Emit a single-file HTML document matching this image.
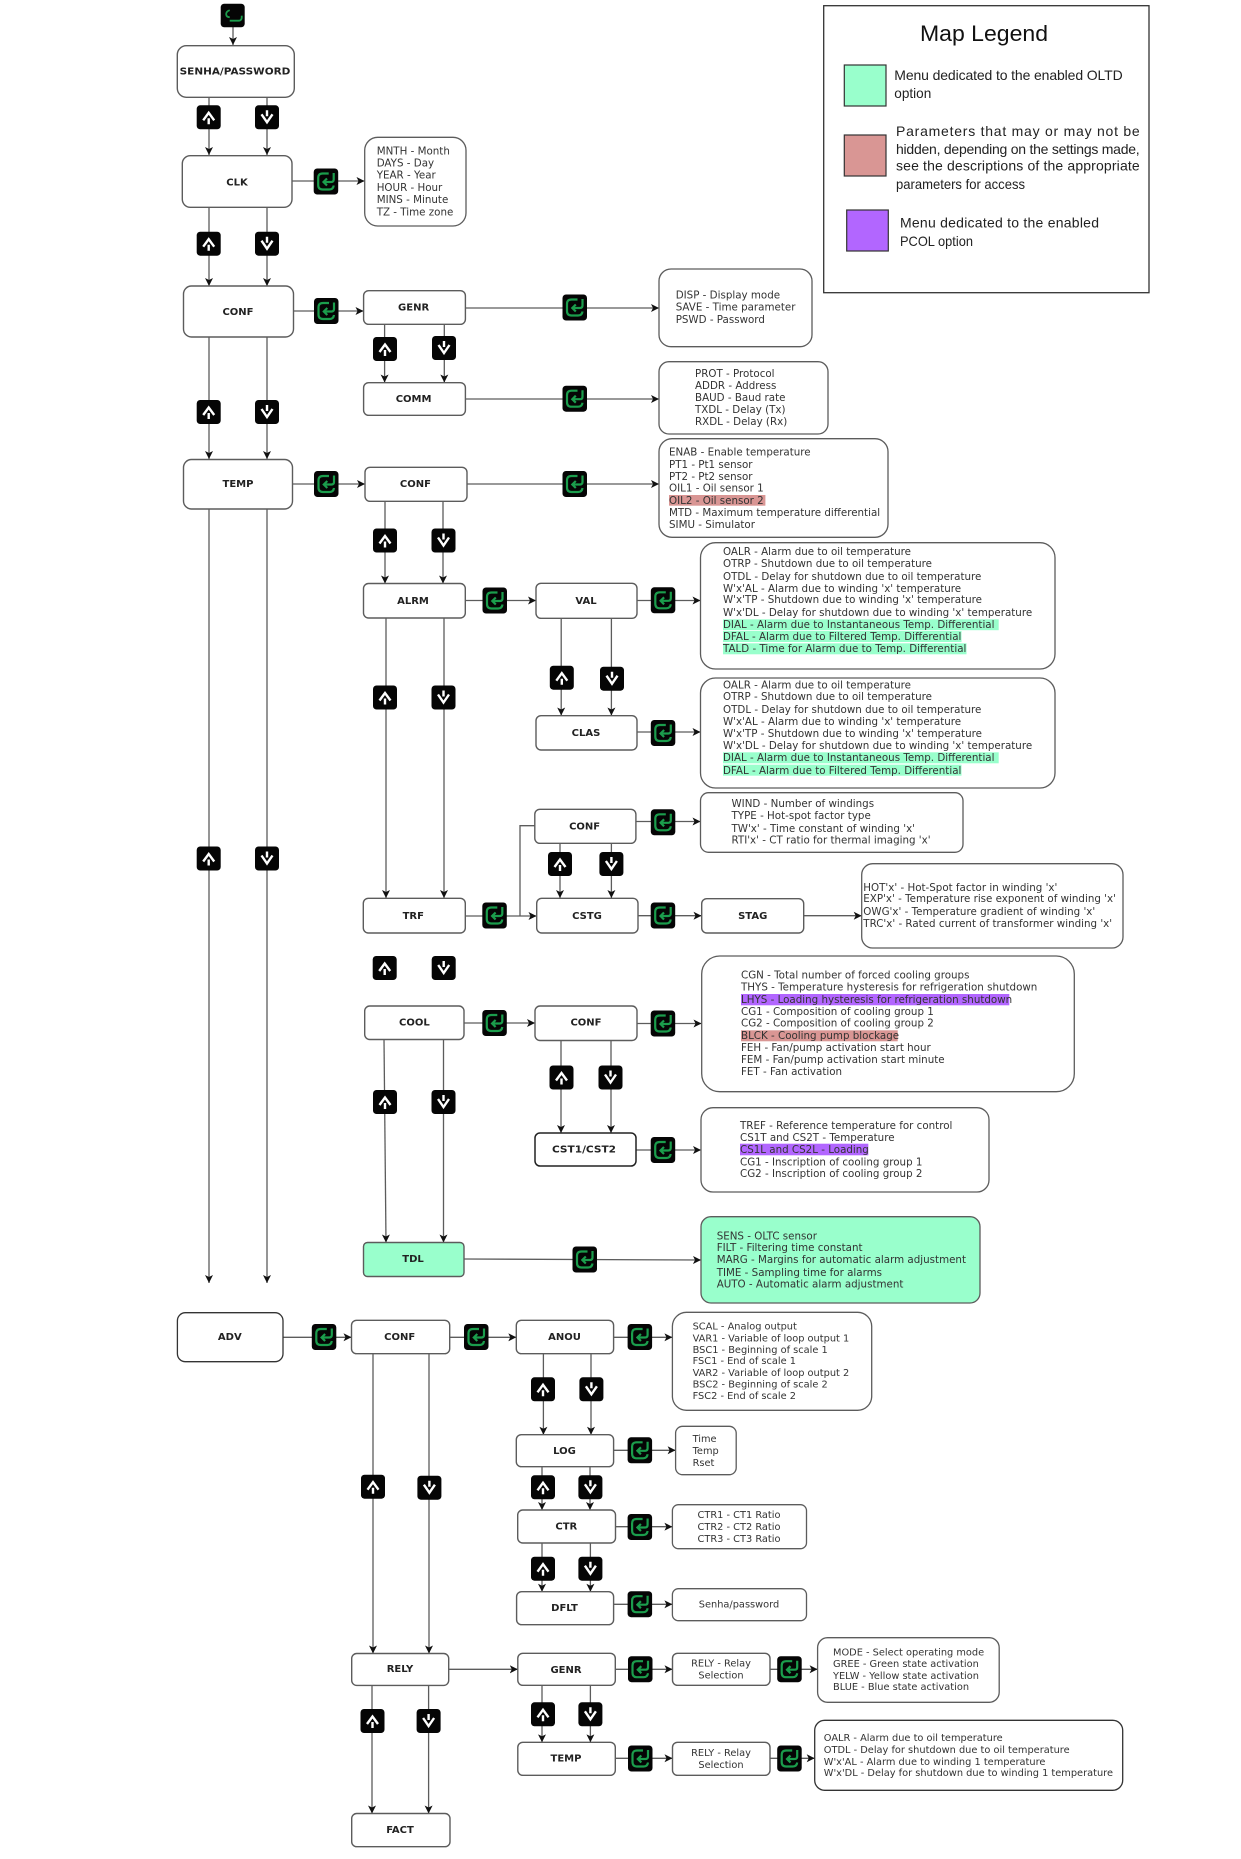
<!DOCTYPE html>
<html><head><meta charset="utf-8"><style>
html,body{margin:0;padding:0;background:#fff}
svg{display:block}
text{font-family:"DejaVu Sans","Liberation Sans",sans-serif;font-size:10.3px;fill:#333}
.b{font-weight:bold;fill:#222;text-anchor:middle;font-size:10px}
.l{stroke:#5c5c5c;stroke-width:1.3;fill:none}
.a{marker-end:url(#ah)}
.n{fill:#fff;stroke:#5c5c5c;stroke-width:1.4}
.i{fill:#fff;stroke:#5c5c5c;stroke-width:1.3}
.s{font-size:9.8px}
.g{font-family:"Liberation Sans",sans-serif;font-size:14px;fill:#222}
</style></head><body>
<svg width="1241" height="1859" viewBox="0 0 1241 1859" xmlns="http://www.w3.org/2000/svg">
<defs>
<marker id="ah" markerWidth="9" markerHeight="9" refX="8" refY="4.5" orient="auto" markerUnits="userSpaceOnUse"><path d="M0 .5L8 4.5L0 8.5L2 4.5Z" fill="#111"/></marker>
<g id="e"><rect width="24.5" height="26" rx="3.5" fill="#050505"/><path d="M15 5H9Q4.500 5 4.500 9.500V16.500Q4.500 21 9 21H15.500Q19.500 21 20 17M20 4.500V11Q20 13.500 17.500 13.500H10M13.300 10L9.800 13.500L13.300 17" fill="none" stroke="#1b9d4c" stroke-width="2.200"/></g>
<g id="u"><rect width="24" height="24" rx="3.5" fill="#050505"/><path d="M6.5 15L12 7.5L17.5 15M12 13V19" fill="none" stroke="#fff" stroke-width="2.4"/></g>
<g id="d"><rect width="24" height="24" rx="3.5" fill="#050505"/><path d="M6.5 9L12 17L17.5 9M12 5V11" fill="none" stroke="#fff" stroke-width="2.4"/></g>
</defs>
<rect width="1241" height="1859" fill="#fff"/>

<!-- connectors -->
<path class="l a" d="M233 27V45"/>
<path class="l a" d="M209 97V155"/><path class="l a" d="M267 97V155"/>
<path class="l a" d="M292 181H364.500"/>
<path class="l a" d="M209 207V286"/><path class="l a" d="M267 207V286"/>
<path class="l a" d="M209 337V459"/><path class="l a" d="M267 337V459"/>
<path class="l a" d="M209 509V1283"/><path class="l a" d="M267 509V1283"/>
<path class="l a" d="M293.500 311H363.500"/>
<path class="l a" d="M465 308H659"/>
<path class="l a" d="M384.600 324V382.500"/><path class="l a" d="M444.300 324V382.500"/>
<path class="l a" d="M465 399H659"/>
<path class="l a" d="M292.500 484H365"/>
<path class="l a" d="M467 484H659"/>
<path class="l a" d="M385 501V583.500"/><path class="l a" d="M443 501V583.500"/>
<path class="l a" d="M465 600.500H536"/>
<path class="l a" d="M637 600.500H700.500"/>
<path class="l a" d="M561.200 618V715.500"/><path class="l a" d="M611.400 618V715.500"/>
<path class="l a" d="M637 732H700.500"/>
<path class="l a" d="M636 821.500H700.500"/>
<path class="l a" d="M386 618V898"/><path class="l a" d="M444 618V898"/>
<path class="l a" d="M465 916H536.500"/>
<path class="l" d="M520 916V825.700H535"/>
<path class="l a" d="M560 843V898"/><path class="l a" d="M611.400 843V898"/>
<path class="l a" d="M638 915.700H701.500"/>
<path class="l a" d="M803.700 915.700H861.700"/>
<path class="l a" d="M464 1023H535"/>
<path class="l a" d="M637 1023.500H701.500"/>
<path class="l a" d="M561 1040V1133"/><path class="l a" d="M611 1040V1133"/>
<path class="l a" d="M636 1150H701"/>
<path class="l a" d="M384 1039L386 1242.500"/><path class="l a" d="M443.500 1039V1242.500"/>
<path class="l a" d="M464 1259L701 1260"/>
<path class="l a" d="M283 1337.300H351.500"/>
<path class="l a" d="M449.700 1337.300H516.300"/>
<path class="l a" d="M613.600 1337.300H672.400"/>
<path class="l a" d="M543.400 1353.700V1434.700"/><path class="l a" d="M591 1353.700V1434.700"/>
<path class="l a" d="M613.600 1450.300H675.600"/>
<path class="l a" d="M542 1466.700V1510"/><path class="l a" d="M590 1466.700V1510"/>
<path class="l a" d="M615.500 1526.700H672.400"/>
<path class="l a" d="M542 1543V1591.700"/><path class="l a" d="M590.400 1543V1591.700"/>
<path class="l a" d="M613.600 1604.300H672.400"/>
<path class="l a" d="M373 1353.700V1653.500"/><path class="l a" d="M429 1353.700V1653.500"/>
<path class="l a" d="M372 1685.500V1813.500"/><path class="l a" d="M428.600 1685.500V1813.500"/>
<path class="l a" d="M448.700 1669.300H517.800"/>
<path class="l a" d="M615.300 1669.300H672.500"/>
<path class="l a" d="M770 1669.300H817.600"/>
<path class="l a" d="M542 1685.300V1742.300"/><path class="l a" d="M590.400 1685.300V1742.300"/>
<path class="l a" d="M615.300 1758.300H672.500"/>
<path class="l a" d="M770 1758.300H814.700"/>

<!-- nodes -->
<rect class="n" x="177.300" y="45.700" width="117" height="51.600" rx="9"/>
<rect class="n" x="182.300" y="155.700" width="109.700" height="51.600" rx="8"/>
<rect class="n" x="183.500" y="286" width="110" height="51" rx="8"/>
<rect class="n" x="183.500" y="459.500" width="109" height="49.500" rx="8"/>
<rect class="n" x="363.600" y="290.700" width="101.800" height="33.600" rx="5"/>
<rect class="n" x="363.600" y="382.700" width="101.800" height="32.600" rx="5"/>
<rect class="n" x="365" y="467.300" width="102" height="34" rx="5"/>
<rect class="n" x="363.500" y="583.500" width="101.800" height="34.500" rx="5"/>
<rect class="n" x="536" y="583.300" width="101" height="35" rx="5"/>
<rect class="n" x="536" y="715.700" width="101" height="34.300" rx="5"/>
<rect class="n" x="534.800" y="809.300" width="101.100" height="34" rx="5"/>
<rect class="n" x="363.300" y="898.300" width="102" height="34.700" rx="5"/>
<rect class="n" x="536.700" y="898.300" width="101.300" height="34.700" rx="5"/>
<rect class="n" x="701.700" y="898.700" width="102" height="34.300" rx="5"/>
<rect class="n" x="364.700" y="1006" width="99.300" height="33.500" rx="5"/>
<rect class="n" x="535" y="1006" width="102" height="34.500" rx="5"/>
<rect x="535" y="1133" width="101" height="33" rx="5" fill="#fff" stroke="#222" stroke-width="1.500"/>
<rect x="363.500" y="1242.500" width="100.500" height="34" rx="4" fill="#99ffcc" stroke="#5c5c5c" stroke-width="1.400"/>
<rect x="177.400" y="1312.700" width="105.600" height="49" rx="8" fill="#fff" stroke="#333" stroke-width="1.300"/>
<rect class="n" x="351.500" y="1320.300" width="98.200" height="33.400" rx="5"/>
<rect class="n" x="516.300" y="1320.300" width="97.300" height="33.400" rx="5"/>
<rect class="n" x="516.300" y="1434.700" width="97.300" height="32" rx="5"/>
<rect class="n" x="517.700" y="1510" width="97.800" height="33" rx="5"/>
<rect class="n" x="516.600" y="1591.700" width="97" height="33" rx="5"/>
<rect class="n" x="351.700" y="1653.500" width="97" height="31.900" rx="5"/>
<rect class="n" x="351.700" y="1813.500" width="98.300" height="33.200" rx="5"/>
<rect class="n" x="517.800" y="1653.300" width="97.500" height="32" rx="5"/>
<rect class="n" x="517.800" y="1742.300" width="97.500" height="33" rx="5"/>
<rect class="n" x="672.500" y="1653.300" width="97.500" height="32" rx="5"/>
<rect class="n" x="672.500" y="1742.300" width="97.500" height="33" rx="5"/>

<!-- node labels -->
<text class="b" x="235" y="74.500" textLength="110.700" lengthAdjust="spacingAndGlyphs">SENHA/PASSWORD</text>
<text class="b" x="237" y="185.500">CLK</text>
<text class="b" x="238" y="315">CONF</text>
<text class="b" x="238" y="487">TEMP</text>
<text class="b" x="413.600" y="310.500">GENR</text>
<text class="b" x="413.600" y="402">COMM</text>
<text class="b" x="415.400" y="487">CONF</text>
<text class="b" x="413" y="604">ALRM</text>
<text class="b" x="586" y="604">VAL</text>
<text class="b" x="586" y="736">CLAS</text>
<text class="b" x="584.600" y="829.500">CONF</text>
<text class="b" x="413.300" y="919">TRF</text>
<text class="b" x="587" y="919">CSTG</text>
<text class="b" x="752.700" y="919">STAG</text>
<text class="b" x="414.400" y="1025.500">COOL</text>
<text class="b" x="586" y="1025.500">CONF</text>
<text class="b" x="584" y="1152.500" textLength="64" lengthAdjust="spacingAndGlyphs">CST1/CST2</text>
<text class="b" x="413" y="1262">TDL</text>
<text class="b" x="229.800" y="1340">ADV</text>
<text class="b" x="399.700" y="1340">CONF</text>
<text class="b" x="564.500" y="1340">ANOU</text>
<text class="b" x="564.500" y="1454">LOG</text>
<text class="b" x="566.300" y="1529.500">CTR</text>
<text class="b" x="564.500" y="1611">DFLT</text>
<text class="b" x="400" y="1672">RELY</text>
<text class="b" x="400" y="1833">FACT</text>
<text class="b" x="566" y="1673">GENR</text>
<text class="b" x="566" y="1761.500">TEMP</text>
<text class="s" x="721" y="1666.500" text-anchor="middle">RELY - Relay</text>
<text class="s" x="721" y="1678.500" text-anchor="middle">Selection</text>
<text class="s" x="721" y="1755.800" text-anchor="middle">RELY - Relay</text>
<text class="s" x="721" y="1767.800" text-anchor="middle">Selection</text>

<!-- icons -->
<g transform="translate(220.700 3.700)"><rect width="24" height="23.600" rx="3.500" fill="#050505"/><path d="M9 6.500Q5 8 5.500 11Q6 13.500 9 13.500M9 17H18Q21.500 17 21 12" fill="none" stroke="#1b9d4c" stroke-width="1.800"/></g>
<use href="#u" x="196.700" y="105.300"/><use href="#d" x="255" y="105.300"/>
<use href="#e" x="313.700" y="168.500"/>
<use href="#u" x="196.700" y="231.700"/><use href="#d" x="255" y="231.700"/>
<use href="#e" x="314" y="298"/>
<use href="#u" x="196.700" y="400"/><use href="#d" x="255" y="400"/>
<use href="#e" x="314" y="471"/>
<use href="#u" x="196.700" y="846.500"/><use href="#d" x="255" y="846.500"/>
<use href="#e" x="562.500" y="294.500"/>
<use href="#u" x="373" y="337"/><use href="#d" x="432" y="336"/>
<use href="#e" x="562.500" y="385.700"/>
<use href="#e" x="562.500" y="471"/>
<use href="#u" x="373" y="528.500"/><use href="#d" x="431.500" y="528.500"/>
<use href="#e" x="482.500" y="587.500"/>
<use href="#e" x="650.800" y="587.300"/>
<use href="#u" x="373" y="685.500"/><use href="#d" x="431.500" y="685.500"/>
<use href="#u" x="549.800" y="665.700"/><use href="#d" x="600" y="666.700"/>
<use href="#e" x="650.800" y="720"/>
<use href="#e" x="650.800" y="809.300"/>
<use href="#u" x="548" y="852"/><use href="#d" x="599.400" y="852"/>
<use href="#e" x="482.300" y="902.500"/>
<use href="#e" x="650.700" y="902.500"/>
<use href="#u" x="372.700" y="956"/><use href="#d" x="431.700" y="956"/>
<use href="#e" x="482.300" y="1010"/>
<use href="#e" x="650.700" y="1010.500"/>
<use href="#u" x="549.500" y="1065.500"/><use href="#d" x="598.500" y="1065.500"/>
<use href="#u" x="373" y="1090"/><use href="#d" x="431.500" y="1090"/>
<use href="#e" x="650.700" y="1137"/>
<use href="#e" x="572.500" y="1246.500"/>
<use href="#e" x="311.800" y="1324"/><use href="#e" x="464" y="1324"/><use href="#e" x="627.600" y="1324"/>
<use href="#u" x="531" y="1377.300"/><use href="#d" x="579.400" y="1377.300"/>
<use href="#e" x="627.600" y="1437.300"/>
<use href="#u" x="361" y="1474.700"/><use href="#d" x="417.400" y="1475.700"/>
<use href="#u" x="531" y="1475.300"/><use href="#d" x="578.400" y="1475.300"/>
<use href="#e" x="627.600" y="1514"/>
<use href="#u" x="531" y="1556.700"/><use href="#d" x="578.400" y="1556.700"/>
<use href="#e" x="627.600" y="1591.200"/>
<use href="#e" x="628" y="1656.200"/><use href="#e" x="777.200" y="1656.200"/>
<use href="#u" x="531" y="1702.300"/><use href="#d" x="578.400" y="1702.300"/>
<use href="#e" x="628" y="1745.500"/><use href="#e" x="777.200" y="1745.500"/>
<use href="#u" x="360.500" y="1709"/><use href="#d" x="416.600" y="1709"/>

<!-- info boxes -->
<rect class="i" x="364.700" y="137.300" width="101.300" height="88.700" rx="13"/>
<text x="376.700" y="154.300">MNTH - Month</text><text x="376.700" y="166.500">DAYS - Day</text><text x="376.700" y="178.700">YEAR - Year</text><text x="376.700" y="190.900">HOUR - Hour</text><text x="376.700" y="203.100">MINS - Minute</text><text x="376.700" y="215.300">TZ - Time zone</text>

<rect class="i" x="659" y="269" width="153" height="77.700" rx="12"/>
<text x="675.700" y="298.500">DISP - Display mode</text><text x="675.700" y="310.500">SAVE - Time parameter</text><text x="675.700" y="322.800">PSWD - Password</text>

<rect class="i" x="659" y="361.700" width="169" height="72.300" rx="10"/>
<text x="695" y="377.200">PROT - Protocol</text><text x="695" y="388.800">ADDR - Address</text><text x="695" y="400.800">BAUD - Baud rate</text><text x="695" y="413.200">TXDL - Delay (Tx)</text><text x="695" y="425.200">RXDL - Delay (Rx)</text>

<rect class="i" x="659" y="438.700" width="229" height="98.600" rx="13"/>
<rect x="669" y="495" width="96.400" height="10.700" fill="#d99694"/>
<text x="669" y="455.500">ENAB - Enable temperature</text><text x="669" y="468.200">PT1 - Pt1 sensor</text><text x="669" y="480.200">PT2 - Pt2 sensor</text><text x="669" y="491.500">OIL1 - Oil sensor 1</text><text x="669" y="504.200">OIL2 - Oil sensor 2</text><text x="669" y="516.200">MTD - Maximum temperature differential</text><text x="669" y="527.800">SIMU - Simulator</text>

<rect class="i" x="700.500" y="542.700" width="354.500" height="126.300" rx="15"/>
<rect x="723" y="619.300" width="275.700" height="10.900" fill="#99ffcc"/><rect x="723" y="631" width="238.500" height="11" fill="#99ffcc"/><rect x="723" y="643.300" width="243.500" height="11" fill="#99ffcc"/>
<text x="723" y="555.200">OALR - Alarm due to oil temperature</text><text x="723" y="567.200">OTRP - Shutdown due to oil temperature</text><text x="723" y="579.800">OTDL - Delay for shutdown due to oil temperature</text><text x="723" y="591.800">W'x'AL - Alarm due to winding  'x' temperature</text><text x="723" y="603.200">W'x'TP - Shutdown due to winding  'x' temperature</text><text x="723" y="615.800">W'x'DL - Delay for shutdown due to winding  'x' temperature</text><text x="723" y="627.800">DIAL - Alarm due to Instantaneous Temp. Differential</text><text x="723" y="639.800">DFAL - Alarm due to Filtered Temp. Differential</text><text x="723" y="652.200">TALD - Time for Alarm due to Temp. Differential</text>

<rect class="i" x="700.500" y="678" width="354.500" height="110" rx="15"/>
<rect x="723" y="752.300" width="275.700" height="11" fill="#99ffcc"/><rect x="723" y="764.700" width="238.500" height="11" fill="#99ffcc"/>
<text x="723" y="688.500">OALR - Alarm due to oil temperature</text><text x="723" y="700.200">OTRP - Shutdown due to oil temperature</text><text x="723" y="713.200">OTDL - Delay for shutdown due to oil temperature</text><text x="723" y="725.200">W'x'AL - Alarm due to winding  'x' temperature</text><text x="723" y="737.200">W'x'TP - Shutdown due to winding  'x' temperature</text><text x="723" y="749.200">W'x'DL - Delay for shutdown due to winding  'x' temperature</text><text x="723" y="761.200">DIAL - Alarm due to Instantaneous Temp. Differential</text><text x="723" y="773.800">DFAL - Alarm due to Filtered Temp. Differential</text>

<rect class="i" x="700.500" y="792.700" width="262.500" height="59.600" rx="8"/>
<text x="731.500" y="807.200">WIND - Number of windings</text><text x="731.500" y="819.200">TYPE - Hot-spot factor type</text><text x="731.500" y="831.800">TW'x' - Time constant of winding 'x'</text><text x="731.500" y="843.500">RTI'x' - CT ratio for thermal imaging 'x'</text>

<rect class="i" x="861.700" y="863.700" width="261.300" height="84.300" rx="11"/>
<text x="863.300" y="891.200">HOT'x' - Hot-Spot factor in winding 'x'</text><text x="863.300" y="902.200">EXP'x' - Temperature rise exponent of winding 'x'</text><text x="863.300" y="915.200">OWG'x' - Temperature gradient of winding 'x'</text><text x="863.300" y="926.800">TRC'x' - Rated current of transformer winding 'x'</text>

<rect class="i" x="701.700" y="956" width="372.600" height="135.700" rx="18"/>
<rect x="741" y="994" width="268.300" height="11.300" fill="#b266ff"/><rect x="741" y="1030.300" width="156.700" height="11" fill="#d99694"/>
<text x="741" y="978.500">CGN - Total number of forced cooling groups</text><text x="741" y="990.500">THYS - Temperature hysteresis for refrigeration shutdown</text><text x="741" y="1003.200">LHYS - Loading hysteresis for refrigeration shutdown</text><text x="741" y="1014.800">CG1 - Composition of cooling group 1</text><text x="741" y="1026.500">CG2 - Composition of cooling group 2</text><text x="741" y="1038.800">BLCK - Cooling pump blockage</text><text x="741" y="1051.200">FEH - Fan/pump activation start hour</text><text x="741" y="1062.800">FEM - Fan/pump activation start minute</text><text x="741" y="1075.200">FET - Fan activation</text>

<rect class="i" x="701" y="1107.700" width="288" height="84.300" rx="12"/>
<rect x="740" y="1143.700" width="128.300" height="11.600" fill="#b266ff"/>
<text x="740" y="1129.200">TREF - Reference temperature for control</text><text x="740" y="1141.200">CS1T and CS2T - Temperature</text><text x="740" y="1153.200">CS1L and CS2L - Loading</text><text x="740" y="1165.500">CG1 - Inscription of cooling group 1</text><text x="740" y="1177.200">CG2 - Inscription of cooling group 2</text>

<rect x="701" y="1216.700" width="279" height="86.300" rx="10" fill="#99ffcc" stroke="#5c5c5c" stroke-width="1.300"/>
<text x="716.700" y="1239.500">SENS - OLTC sensor</text><text x="716.700" y="1251.200">FILT - Filtering time constant</text><text x="716.700" y="1263.200">MARG - Margins for automatic alarm adjustment</text><text x="716.700" y="1275.800">TIME - Sampling time for alarms</text><text x="716.700" y="1287.500">AUTO - Automatic alarm adjustment</text>

<rect class="i" x="672.400" y="1312.300" width="199.300" height="98" rx="14"/>
<text class="s" x="692.600" y="1329.500">SCAL - Analog output</text><text class="s" x="692.600" y="1341.500">VAR1 - Variable of loop output 1</text><text class="s" x="692.600" y="1352.800">BSC1 - Beginning of scale 1</text><text class="s" x="692.600" y="1364.200">FSC1 - End of scale 1</text><text class="s" x="692.600" y="1376.200">VAR2 - Variable of loop output 2</text><text class="s" x="692.600" y="1387.500">BSC2 - Beginning of scale 2</text><text class="s" x="692.600" y="1398.800">FSC2 - End of scale 2</text>

<rect class="i" x="675.600" y="1426.300" width="60.600" height="48.400" rx="7"/>
<text class="s" x="692.600" y="1442.200">Time</text><text class="s" x="692.600" y="1453.800">Temp</text><text class="s" x="692.600" y="1465.800">Rset</text>

<rect class="i" x="672.400" y="1504.700" width="134.100" height="44" rx="6"/>
<text class="s" x="739" y="1518.200" text-anchor="middle">CTR1 - CT1 Ratio</text><text class="s" x="739" y="1529.800" text-anchor="middle">CTR2 - CT2 Ratio</text><text class="s" x="739" y="1541.800" text-anchor="middle">CTR3 - CT3 Ratio</text>

<rect class="i" x="672.400" y="1588.700" width="134.100" height="32" rx="6"/>
<text class="s" x="739" y="1607.500" text-anchor="middle">Senha/password</text>

<rect class="i" x="817.600" y="1637.700" width="181.600" height="64.600" rx="10"/>
<text class="s" x="833" y="1655.500">MODE - Select operating mode</text><text class="s" x="833" y="1666.800">GREE - Green state activation</text><text class="s" x="833" y="1678.800">YELW - Yellow state activation</text><text class="s" x="833" y="1690.200">BLUE - Blue state activation</text>

<rect x="814.700" y="1720.300" width="308" height="70" rx="10" fill="#fff" stroke="#333" stroke-width="1.300"/>
<text class="s" x="823.800" y="1741.200">OALR - Alarm due to oil temperature</text><text class="s" x="823.800" y="1752.800">OTDL - Delay for shutdown due to oil temperature</text><text class="s" x="823.800" y="1764.800">W'x'AL - Alarm due to winding 1 temperature</text><text class="s" x="823.800" y="1776.200">W'x'DL - Delay for shutdown due to winding 1 temperature</text>

<!-- legend -->
<rect x="823.700" y="5.700" width="325.300" height="287" fill="#fff" stroke="#333" stroke-width="1.300"/>
<text x="984" y="41" text-anchor="middle" textLength="128" lengthAdjust="spacingAndGlyphs" style="font-family:'Liberation Sans',sans-serif;font-size:22.500px;fill:#111">Map Legend</text>
<rect x="844.300" y="65" width="41.700" height="41" fill="#99ffcc" stroke="#333" stroke-width="1.200"/>
<rect x="844.300" y="135" width="41.700" height="41" fill="#d99694" stroke="#333" stroke-width="1.200"/>
<rect x="846.700" y="210" width="41.600" height="41" fill="#b266ff" stroke="#333" stroke-width="1.200"/>
<text class="g" x="894.300" y="80" textLength="228.400">Menu dedicated to the enabled OLTD</text>
<text class="g" x="894.300" y="98" textLength="37" lengthAdjust="spacingAndGlyphs">option</text>
<text class="g" x="896" y="136" textLength="243.700">Parameters that may or may not be</text>
<text class="g" x="896" y="154" textLength="243.700">hidden, depending on the settings made,</text>
<text class="g" x="896" y="170.500" textLength="243.700">see the descriptions of the appropriate</text>
<text class="g" x="896" y="189" textLength="129" lengthAdjust="spacingAndGlyphs">parameters for access</text>
<text class="g" x="900" y="227.500" textLength="199">Menu dedicated to the enabled</text>
<text class="g" x="900" y="246" textLength="73" lengthAdjust="spacingAndGlyphs">PCOL option</text>
</svg>
</body></html>
